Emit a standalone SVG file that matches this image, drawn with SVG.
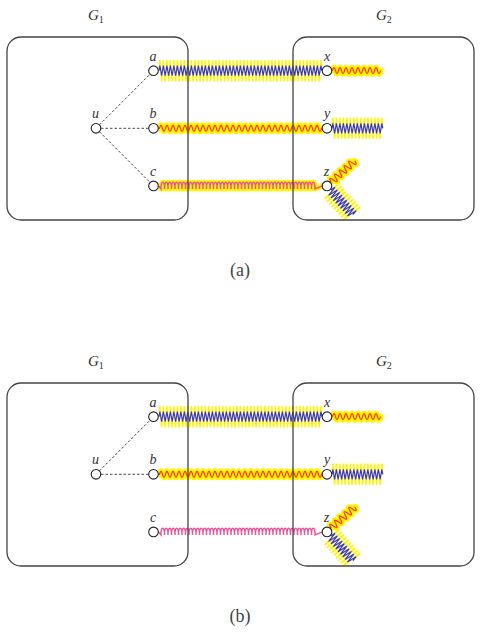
<svg xmlns="http://www.w3.org/2000/svg" xmlns:xlink="http://www.w3.org/1999/xlink" width="481" height="636" viewBox="0 0 481 636">
<style>
.bx{fill:none;stroke:#444;stroke-width:1.3}
.nd{fill:#fff;stroke:#222;stroke-width:1.1}
.lb{font-family:"Liberation Serif",serif;font-style:italic;font-size:14px;fill:#333;text-anchor:middle}
.gl{font-family:"Liberation Serif",serif;font-size:15px;fill:#333}
.dash{stroke:#333;stroke-width:0.9;stroke-dasharray:2.5 2;fill:none}
.zy{fill:none;stroke:#fff500;stroke-width:1.5}
.zb{fill:none;stroke:#2f2fff;stroke-width:1.1}
.sy{fill:none;stroke:#fff500;stroke-width:6;stroke-linecap:round;stroke-linejoin:round}
.sr{fill:none;stroke:#ff2a00;stroke-width:1.2}
.cy{fill:none;stroke:#fff500;stroke-width:5;stroke-linejoin:round;stroke-linecap:round}
.cp{fill:none;stroke:#e8579c;stroke-width:1.5}
.cap{font-family:"Liberation Serif",serif;font-size:18px;fill:#444;text-anchor:middle}
</style>
<defs>
<path id="ZL" d="M0,0 l0.875,-5 1.75,10 1.75,-10 1.75,10 1.75,-10 1.75,10 1.75,-10 1.75,10 1.75,-10 1.75,10 1.75,-10 1.75,10 1.75,-10 1.75,10 1.75,-10 1.75,10 1.75,-10 1.75,10 1.75,-10 1.75,10 1.75,-10
1.75,10 1.75,-10 1.75,10 1.75,-10 1.75,10 1.75,-10 1.75,10 1.75,-10 1.75,10 1.75,-10 1.75,10 1.75,-10 1.75,10 1.75,-10 1.75,10 1.75,-10 1.75,10 1.75,-10 1.75,10 1.75,-10
1.75,10 1.75,-10 1.75,10 1.75,-10 1.75,10 1.75,-10 1.75,10 1.75,-10 1.75,10 1.75,-10 1.75,10 1.75,-10 1.75,10 1.75,-10 1.75,10 1.75,-10 1.75,10 1.75,-10 1.75,10 1.75,-10
1.75,10 1.75,-10 1.75,10 1.75,-10 1.75,10 1.75,-10 1.75,10 1.75,-10 1.75,10 1.75,-10 1.75,10 1.75,-10 1.75,10 1.75,-10 1.75,10 1.75,-10 1.75,10 1.75,-10 1.75,10 1.75,-10
1.75,10 1.75,-10 1.75,10 1.75,-10 1.75,10 1.75,-10 1.75,10 1.75,-10 1.75,10 1.75,-10 1.75,10 1.75,-10 0.875,5"/>
<path id="ZS" d="M0,0 l0.875,-5 1.75,10 1.75,-10 1.75,10 1.75,-10 1.75,10 1.75,-10 1.75,10 1.75,-10 1.75,10 1.75,-10 1.75,10 1.75,-10 1.75,10 1.75,-10 1.75,10 1.75,-10 1.75,10 1.75,-10 1.75,10 1.75,-10
1.75,10 1.75,-10 1.75,10 1.75,-10 1.75,10 1.75,-10 1.75,10 1.75,-10 0.875,5"/>
<path id="ZT" d="M0,0 l0.875,-5 1.75,10 1.75,-10 1.75,10 1.75,-10 1.75,10 1.75,-10 1.75,10 1.75,-10 1.75,10 1.75,-10 1.75,10 1.75,-10 1.75,10 1.75,-10 1.75,10 1.75,-10 1.75,10 1.75,-10 0.875,5"/>
<path id="SB" d="M0,0 h1 q1.5,-6 3,0 t3,0 3,0 3,0 3,0 3,0 3,0 3,0 3,0 3,0 3,0
3,0 3,0 3,0 3,0 3,0 3,0 3,0 3,0 3,0 3,0
3,0 3,0 3,0 3,0 3,0 3,0 3,0 3,0 3,0 3,0
3,0 3,0 3,0 3,0 3,0 3,0 3,0 3,0 3,0 3,0
3,0 3,0 3,0 3,0 3,0 3,0 3,0 3,0 3,0 3,0
3,0 3,0 3,0 h1"/>
<path id="SX" d="M0,0 q1.5,-6 3,0 t3,0 3,0 3,0 3,0 3,0 3,0 3,0 3,0 3,0 3,0 3,0 3,0 3,0 3,0 3,0"/>
<path id="SZ" d="M0,0 q1.6,-7 3.2,0 t3.2,0 3.2,0 3.2,0 3.2,0 3.2,0 3.2,0 3.2,0 3.2,0 3.2,0"/>
<path id="CL" d="M0,0 l2.5,3 c-0.4,-9 3.9,-9 3.5,0 -0.4,-9 3.9,-9 3.5,0 -0.4,-9 3.9,-9 3.5,0 -0.4,-9 3.9,-9 3.5,0 -0.4,-9 3.9,-9 3.5,0 -0.4,-9 3.9,-9 3.5,0 -0.4,-9 3.9,-9 3.5,0 -0.4,-9 3.9,-9 3.5,0 -0.4,-9 3.9,-9 3.5,0 -0.4,-9 3.9,-9 3.5,0 -0.4,-9 3.9,-9 3.5,0
-0.4,-9 3.9,-9 3.5,0 -0.4,-9 3.9,-9 3.5,0 -0.4,-9 3.9,-9 3.5,0 -0.4,-9 3.9,-9 3.5,0 -0.4,-9 3.9,-9 3.5,0 -0.4,-9 3.9,-9 3.5,0 -0.4,-9 3.9,-9 3.5,0 -0.4,-9 3.9,-9 3.5,0 -0.4,-9 3.9,-9 3.5,0 -0.4,-9 3.9,-9 3.5,0
-0.4,-9 3.9,-9 3.5,0 -0.4,-9 3.9,-9 3.5,0 -0.4,-9 3.9,-9 3.5,0 -0.4,-9 3.9,-9 3.5,0 -0.4,-9 3.9,-9 3.5,0 -0.4,-9 3.9,-9 3.5,0 -0.4,-9 3.9,-9 3.5,0 -0.4,-9 3.9,-9 3.5,0 -0.4,-9 3.9,-9 3.5,0 -0.4,-9 3.9,-9 3.5,0
-0.4,-9 3.9,-9 3.5,0 -0.4,-9 3.9,-9 3.5,0 -0.4,-9 3.9,-9 3.5,0 -0.4,-9 3.9,-9 3.5,0 -0.4,-9 3.9,-9 3.5,0 -0.4,-9 3.9,-9 3.5,0 -0.4,-9 3.9,-9 3.5,0 -0.4,-9 3.9,-9 3.5,0 -0.4,-9 3.9,-9 3.5,0 -0.4,-9 3.9,-9 3.5,0
-0.4,-9 3.9,-9 3.5,0 -0.4,-9 3.9,-9 3.5,0 -0.4,-9 3.9,-9 3.5,0 l7.5,-3"/>
</defs>

<!-- Panel (a) -->
<g id="panel-a">
<g id="connectors-a">
<line class="dash" x1="99.5" y1="124.8" x2="150" y2="74.2"/>
<line class="dash" x1="101" y1="128.3" x2="148.5" y2="128.3"/>
<line class="dash" x1="99.5" y1="131.8" x2="150" y2="182.4"/>
<use href="#ZL" class="zy" transform="translate(159,70.7) scale(1,2.1)"/>
<use href="#ZL" class="zb" transform="translate(159,70.7)"/>
<use href="#SX" class="sy" transform="translate(332.5,70.7)"/>
<use href="#SX" class="sr" transform="translate(332.5,70.7)"/>
<use href="#SB" class="sy" transform="translate(158.5,128.3)"/>
<use href="#SB" class="sr" transform="translate(158.5,128.3)"/>
<use href="#ZS" class="zy" transform="translate(332,128.3) scale(1,2.1)"/>
<use href="#ZS" class="zb" transform="translate(332,128.3)"/>
<use href="#CL" class="cy" transform="translate(158.5,185.9)"/>
<use href="#CL" class="cp" transform="translate(158.5,185.9)"/>
<use href="#SZ" class="sy" transform="translate(327,185.9) rotate(-42) translate(5.5,0)"/>
<use href="#SZ" class="sr" transform="translate(327,185.9) rotate(-42) translate(5.5,0)"/>
<use href="#ZT" class="zy" transform="translate(327,185.9) rotate(48) translate(5.5,0) scale(1,2.1)"/>
<use href="#ZT" class="zb" transform="translate(327,185.9) rotate(48) translate(5.5,0)"/>
</g>
<g id="G1-a"><rect class="bx" x="7" y="37" width="181" height="183" rx="14"/><text class="gl" x="88" y="20"><tspan font-style="italic">G</tspan><tspan font-size="10" dy="2.5">1</tspan></text></g>
<g id="G2-a"><rect class="bx" x="293" y="37" width="181" height="183" rx="14"/><text class="gl" x="376" y="20"><tspan font-style="italic">G</tspan><tspan font-size="10" dy="2.5">2</tspan></text></g>
<g id="u-a"><circle class="nd" cx="96" cy="128.3" r="4.8"/><text class="lb" x="95.5" y="118.3">u</text></g>
<g id="a-a"><circle class="nd" cx="153.5" cy="70.7" r="4.8"/><text class="lb" x="153" y="60.7">a</text></g>
<g id="b-a"><circle class="nd" cx="153.5" cy="128.3" r="4.8"/><text class="lb" x="153" y="118.3">b</text></g>
<g id="c-a"><circle class="nd" cx="153.5" cy="185.9" r="4.8"/><text class="lb" x="153" y="175.9">c</text></g>
<g id="x-a"><circle class="nd" cx="327" cy="70.7" r="4.8"/><text class="lb" x="327" y="60.7">x</text></g>
<g id="y-a"><circle class="nd" cx="327" cy="128.3" r="4.8"/><text class="lb" x="327" y="118.3">y</text></g>
<g id="z-a"><circle class="nd" cx="327" cy="185.9" r="4.8"/><text class="lb" x="326.5" y="175.9">z</text></g>
<text class="cap" x="240" y="276">(a)</text>
</g>

<!-- Panel (b) -->
<g id="panel-b" transform="translate(0,346)">
<g id="connectors-b">
<line class="dash" x1="99.5" y1="124.8" x2="150" y2="74.2"/>
<line class="dash" x1="101" y1="128.3" x2="148.5" y2="128.3"/>
<use href="#ZL" class="zy" transform="translate(159,70.7) scale(1,2.1)"/>
<use href="#ZL" class="zb" transform="translate(159,70.7)"/>
<use href="#SX" class="sy" transform="translate(332.5,70.7)"/>
<use href="#SX" class="sr" transform="translate(332.5,70.7)"/>
<use href="#SB" class="sy" transform="translate(158.5,128.3)"/>
<use href="#SB" class="sr" transform="translate(158.5,128.3)"/>
<use href="#ZS" class="zy" transform="translate(332,128.3) scale(1,2.1)"/>
<use href="#ZS" class="zb" transform="translate(332,128.3)"/>
<use href="#CL" class="cp" transform="translate(158.5,185.9)"/>
<use href="#SZ" class="sy" transform="translate(327,185.9) rotate(-42) translate(5.5,0)"/>
<use href="#SZ" class="sr" transform="translate(327,185.9) rotate(-42) translate(5.5,0)"/>
<use href="#ZT" class="zy" transform="translate(327,185.9) rotate(48) translate(5.5,0) scale(1,2.1)"/>
<use href="#ZT" class="zb" transform="translate(327,185.9) rotate(48) translate(5.5,0)"/>
</g>
<g id="G1-b"><rect class="bx" x="7" y="37" width="181" height="183" rx="14"/><text class="gl" x="88" y="20"><tspan font-style="italic">G</tspan><tspan font-size="10" dy="2.5">1</tspan></text></g>
<g id="G2-b"><rect class="bx" x="293" y="37" width="181" height="183" rx="14"/><text class="gl" x="376" y="20"><tspan font-style="italic">G</tspan><tspan font-size="10" dy="2.5">2</tspan></text></g>
<g id="u-b"><circle class="nd" cx="96" cy="128.3" r="4.8"/><text class="lb" x="95.5" y="118.3">u</text></g>
<g id="a-b"><circle class="nd" cx="153.5" cy="70.7" r="4.8"/><text class="lb" x="153" y="60.7">a</text></g>
<g id="b-b"><circle class="nd" cx="153.5" cy="128.3" r="4.8"/><text class="lb" x="153" y="118.3">b</text></g>
<g id="c-b"><circle class="nd" cx="153.5" cy="185.9" r="4.8"/><text class="lb" x="153" y="175.9">c</text></g>
<g id="x-b"><circle class="nd" cx="327" cy="70.7" r="4.8"/><text class="lb" x="327" y="60.7">x</text></g>
<g id="y-b"><circle class="nd" cx="327" cy="128.3" r="4.8"/><text class="lb" x="327" y="118.3">y</text></g>
<g id="z-b"><circle class="nd" cx="327" cy="185.9" r="4.8"/><text class="lb" x="326.5" y="175.9">z</text></g>
<text class="cap" x="240" y="276">(b)</text>
</g>
</svg>
